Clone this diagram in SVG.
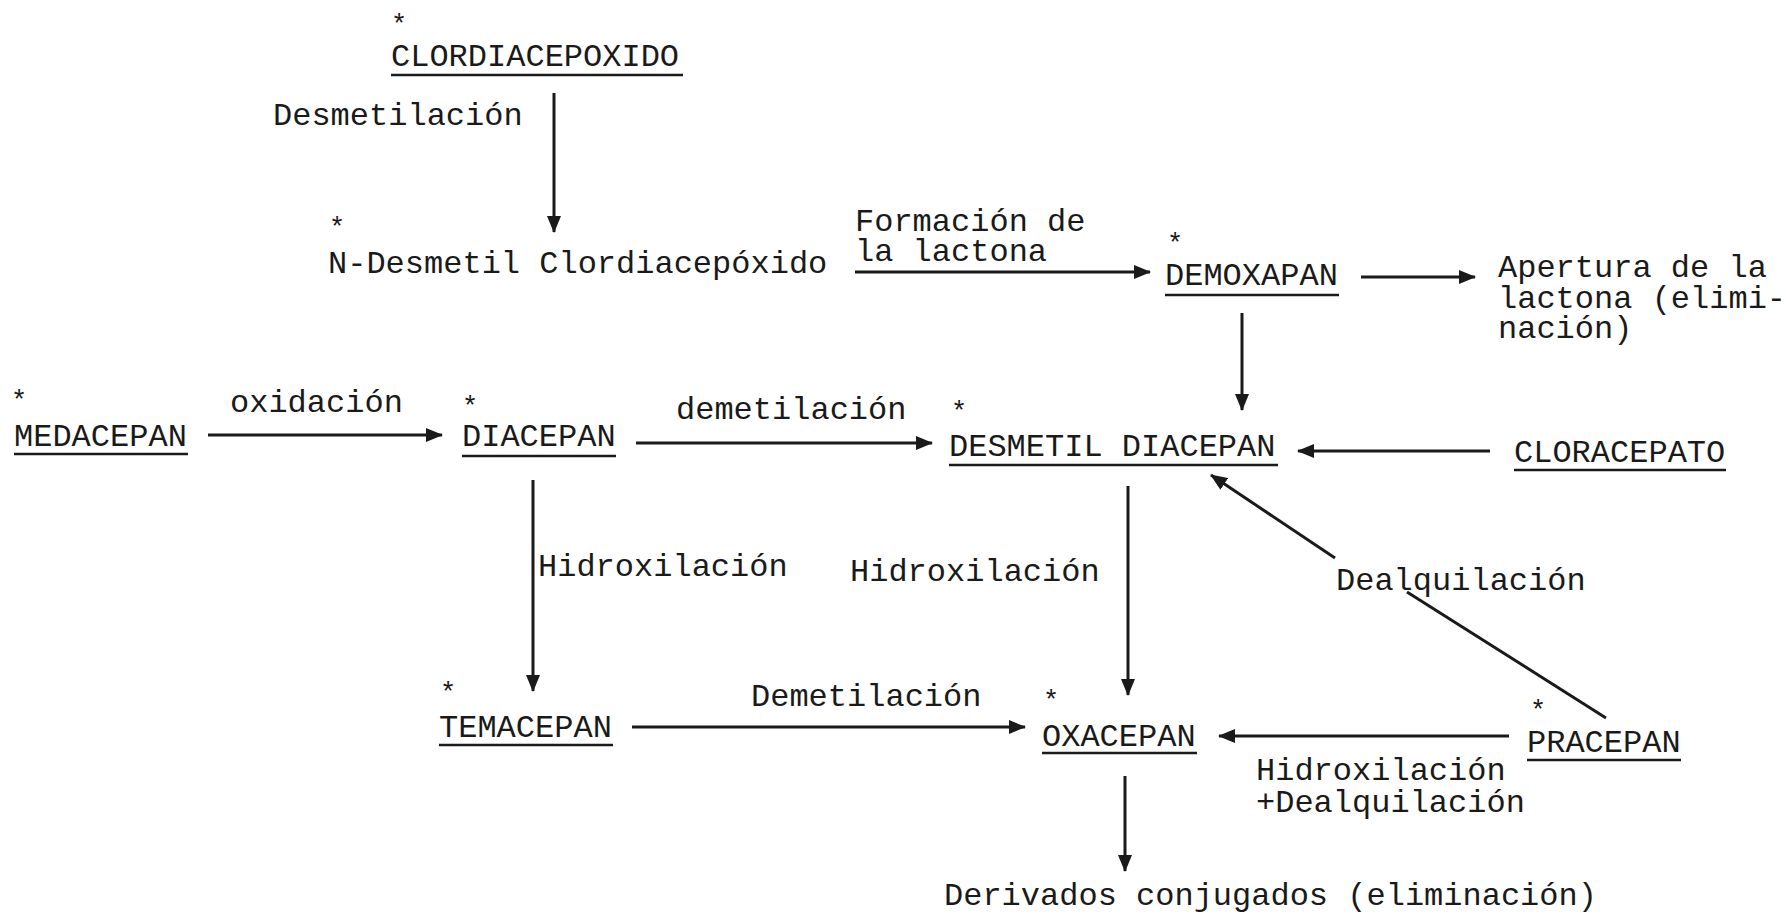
<svg xmlns="http://www.w3.org/2000/svg" width="1786" height="914" viewBox="0 0 1786 914">
<style>
text{font-family:"Liberation Mono","DejaVu Sans Mono",monospace;font-size:32px;fill:#1a1a1a}
.ast{font-size:27px;text-anchor:middle}
.ul{stroke:#1a1a1a;stroke-width:2.5}
.ed{stroke:#1a1a1a;stroke-width:3;fill:none}
</style>
<defs>
<marker id="ah" markerUnits="userSpaceOnUse" markerWidth="18" markerHeight="14" refX="16" refY="7" orient="auto">
<path d="M0,0 L17,7 L0,14 Z" fill="#1a1a1a"/>
</marker>
</defs>
<rect width="1786" height="914" fill="#fff"/>
<g id="n-clordiacepoxido">
<text class="ast" x="399" y="33">*</text>
<text x="391" y="66">CLORDIACEPOXIDO</text>
<line class="ul" x1="391" y1="75" x2="683" y2="75"/>
</g>
<g id="n-ndesmetil">
<text class="ast" x="337" y="236">*</text>
<text x="328" y="273">N-Desmetil Clordiacepóxido</text>
</g>
<g id="n-demoxapan">
<text class="ast" x="1175" y="252">*</text>
<text x="1165" y="285">DEMOXAPAN</text>
<line class="ul" x1="1165" y1="295" x2="1339" y2="295"/>
</g>
<g id="n-apertura">
<text x="1498" y="277">Apertura de la<tspan x="1498" y="308">lactona (elimi-</tspan><tspan x="1498" y="338">nación)</tspan></text>
</g>
<g id="n-medacepan">
<text class="ast" x="19" y="409">*</text>
<text x="14" y="446">MEDACEPAN</text>
<line class="ul" x1="14" y1="454" x2="188" y2="454"/>
</g>
<g id="n-diacepan">
<text class="ast" x="470" y="415">*</text>
<text x="462" y="446">DIACEPAN</text>
<line class="ul" x1="462" y1="456" x2="616" y2="456"/>
</g>
<g id="n-desmetildiacepan">
<text class="ast" x="959" y="420">*</text>
<text x="949" y="456">DESMETIL DIACEPAN</text>
<line class="ul" x1="949" y1="465" x2="1278" y2="465"/>
</g>
<g id="n-cloracepato">
<text x="1514" y="462">CLORACEPATO</text>
<line class="ul" x1="1514" y1="470" x2="1726" y2="470"/>
</g>
<g id="n-temacepan">
<text class="ast" x="448" y="701">*</text>
<text x="439" y="737">TEMACEPAN</text>
<line class="ul" x1="439" y1="745" x2="613" y2="745"/>
</g>
<g id="n-oxacepan">
<text class="ast" x="1051" y="709">*</text>
<text x="1042" y="746">OXACEPAN</text>
<line class="ul" x1="1042" y1="753" x2="1197" y2="753"/>
</g>
<g id="n-pracepan">
<text class="ast" x="1538" y="719">*</text>
<text x="1527" y="752">PRACEPAN</text>
<line class="ul" x1="1527" y1="760" x2="1681" y2="760"/>
</g>
<g id="n-derivados">
<text x="944" y="905">Derivados conjugados (eliminación)</text>
</g>
<g id="connectors">
<line class="ed" x1="554" y1="93" x2="554" y2="232" marker-end="url(#ah)"/>
<text x="273" y="125">Desmetilación</text>
<line class="ed" x1="855" y1="272" x2="1150" y2="272" marker-end="url(#ah)"/>
<text x="855" y="231">Formación de<tspan x="855" y="261">la lactona</tspan></text>
<line class="ed" x1="1361" y1="277" x2="1475" y2="277" marker-end="url(#ah)"/>
<line class="ed" x1="1242" y1="313" x2="1242" y2="410" marker-end="url(#ah)"/>
<line class="ed" x1="208" y1="435" x2="442" y2="435" marker-end="url(#ah)"/>
<text x="230" y="412">oxidación</text>
<line class="ed" x1="636" y1="443" x2="932" y2="443" marker-end="url(#ah)"/>
<text x="676" y="419">demetilación</text>
<line class="ed" x1="1490" y1="451" x2="1298" y2="451" marker-end="url(#ah)"/>
<line class="ed" x1="533" y1="480" x2="533" y2="691" marker-end="url(#ah)"/>
<text x="538" y="576">Hidroxilación</text>
<line class="ed" x1="1128" y1="486" x2="1128" y2="695" marker-end="url(#ah)"/>
<text x="850" y="581">Hidroxilación</text>
<line class="ed" x1="1606" y1="718" x2="1407" y2="592"/>
<line class="ed" x1="1335" y1="558" x2="1211" y2="475" marker-end="url(#ah)"/>
<text x="1336" y="590">Dealquilación</text>
<line class="ed" x1="632" y1="727" x2="1025" y2="727" marker-end="url(#ah)"/>
<text x="751" y="706">Demetilación</text>
<line class="ed" x1="1509" y1="736" x2="1219" y2="736" marker-end="url(#ah)"/>
<text x="1256" y="780">Hidroxilación<tspan x="1256" y="812">+Dealquilación</tspan></text>
<line class="ed" x1="1125" y1="776" x2="1125" y2="871" marker-end="url(#ah)"/>
</g>
</svg>
